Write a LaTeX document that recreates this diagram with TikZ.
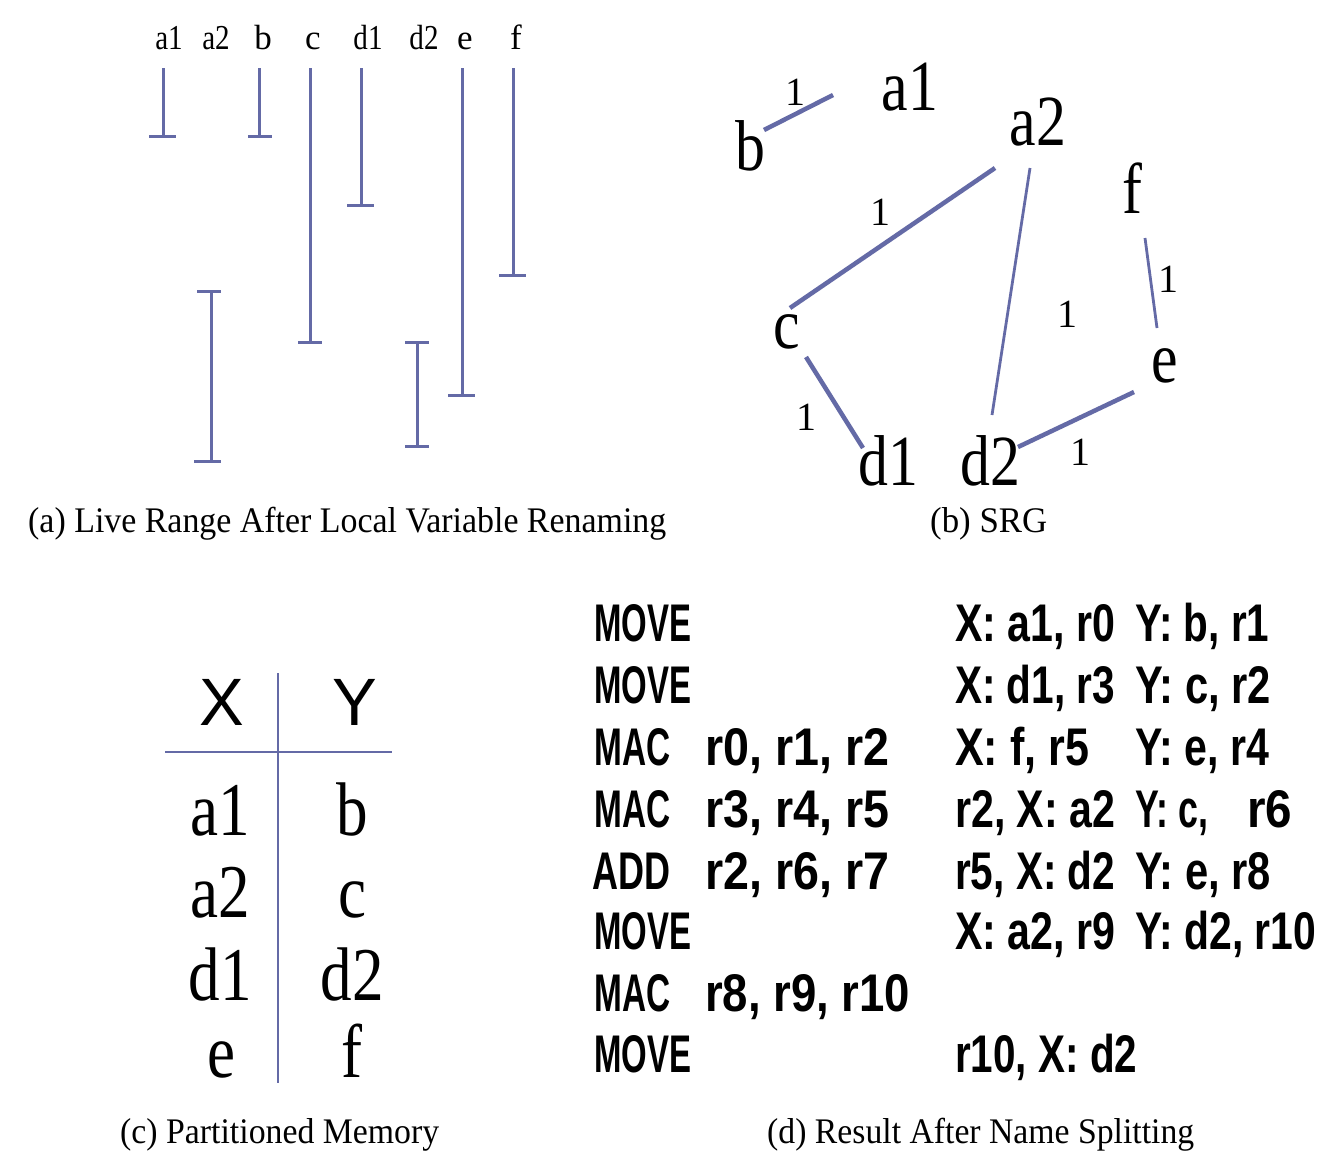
\documentclass[tikz,border=0pt]{standalone}
\usepackage{fontspec}
\usepackage{graphicx}
\setmainfont{Liberation Serif}
\newfontfamily\arialf{Liberation Sans}
\definecolor{lrblue}{RGB}{100,106,166}
\newcommand\fw[2]{\resizebox{#1pt}{\height}{#2}}
\newcommand\sxx[1]{\scalebox{0.83}[1]{#1}}
\begin{document}
\begin{tikzpicture}[x=1pt,y=-1pt,
  bar/.style={draw=lrblue,line width=3pt},
  edgethick/.style={draw=lrblue,line width=4.5pt},
  edgethin/.style={draw=lrblue,line width=2.8pt},
  tbl/.style={draw=lrblue,line width=2.4pt},
  collab/.style={font=\fontsize{35}{35}\selectfont,anchor=base,inner sep=0pt},
  srg/.style={font=\fontsize{72}{72}\selectfont,anchor=base,inner sep=0pt},
  wlab/.style={font=\fontsize{40}{40}\selectfont,anchor=base,inner sep=0pt},
  tcell/.style={font=\fontsize{76}{76}\selectfont,anchor=base,inner sep=0pt},
  thead/.style={font=\arialf\fontsize{67}{67}\selectfont,anchor=base,inner sep=0pt},
  opc/.style={font=\arialf\bfseries\fontsize{53}{53}\selectfont,anchor=base west,inner sep=0pt},
  opd/.style={font=\arialf\bfseries\fontsize{53}{53}\selectfont,anchor=base west,inner sep=0pt},
  capt/.style={font=\fontsize{36}{36}\selectfont,anchor=base west,inner sep=0pt}]
\useasboundingbox[fill=white] (0,0) rectangle (1330,1163);

% ---------- (a) live ranges ----------
\node[collab] (la1) at (169,49) {\sxx{a1}};
\node[collab] (la2) at (216,49) {\sxx{a2}};
\node[collab] (lb)  at (263,49) {b};
\node[collab] (lc)  at (313,49) {c};
\node[collab] (ld1) at (368,49) {\sxx{d1}};
\node[collab] (ld2) at (424,49) {\sxx{d2}};
\node[collab] (le)  at (465,49) {e};
\node[collab] (lf)  at (516,49) {f};

\draw[bar] (163,68) -- (163,136); \draw[bar] (149,136) -- (176,136);
\draw[bar] (259,68) -- (259,136); \draw[bar] (248,136) -- (272,136);
\draw[bar] (310,68) -- (310,342); \draw[bar] (298,342) -- (322,342);
\draw[bar] (361,68) -- (361,205); \draw[bar] (347,205) -- (374,205);
\draw[bar] (462,68) -- (462,395); \draw[bar] (448,395) -- (475,395);
\draw[bar] (513,68) -- (513,275); \draw[bar] (499,275) -- (526,275);
\draw[bar] (211,291) -- (211,461); \draw[bar] (197,291) -- (221,291); \draw[bar] (194,461) -- (221,461);
\draw[bar] (417,342) -- (417,446); \draw[bar] (405,342) -- (429,342); \draw[bar] (405,446) -- (429,446);

\node[capt] (capa) at (28,532) {\fw{638}{(a) Live Range After Local Variable Renaming}};

% ---------- (b) SRG ----------
\node[srg] (b)  at (750,170) {\sxx{b}};
\node[srg] (a1) at (910,110) {\sxx{a1}};
\node[srg] (a2) at (1038,145) {\sxx{a2}};
\node[srg] (f)  at (1132,213) {\sxx{f}};
\node[srg] (c)  at (787,348) {\sxx{c}};
\node[srg] (e)  at (1165,382) {\sxx{e}};
\node[srg] (d1) at (888,485) {\sxx{d1}};
\node[srg] (d2) at (990,485) {\sxx{d2}};

\draw[edgethick] ([shift={(14,-40)}]b.base) -- ([shift={(-77,-15)}]a1.base);
\draw[edgethick] ([shift={(-43,23)}]a2.base) -- ([shift={(3,-40)}]c.base);
\draw[edgethin]  ([shift={(-8,23)}]a2.base) -- ([shift={(2,-70)}]d2.base);
\draw[edgethin]  ([shift={(13,25)}]f.base) -- ([shift={(-8,-54)}]e.base);
\draw[edgethick] ([shift={(19,9)}]c.base) -- ([shift={(-25,-37)}]d1.base);
\draw[edgethick] ([shift={(28,-38)}]d2.base) -- ([shift={(-31,10)}]e.base);

\node[wlab] (w1) at (795,105) {1};
\node[wlab] (w2) at (880,225) {1};
\node[wlab] (w3) at (1067,327) {1};
\node[wlab] (w4) at (1168,292) {1};
\node[wlab] (w5) at (806,430) {1};
\node[wlab] (w6) at (1080,465) {1};

\node[capt] (capb) at (930,532) {\fw{117}{(b) SRG}};

% ---------- (c) partitioned memory ----------
\draw[tbl] (278,673) -- (278,1083);
\draw[tbl] (165,752) -- (392,752);
\node[thead] (hx) at (222,725) {X};
\node[thead] (hy) at (355,725) {Y};
\node[tcell] (ta1) at (220,835) {\sxx{a1}};
\node[tcell] (tb)  at (352,835) {\sxx{b}};
\node[tcell] (ta2) at (220,917) {\sxx{a2}};
\node[tcell] (tc)  at (352,917) {\sxx{c}};
\node[tcell] (td1) at (220,1000) {\sxx{d1}};
\node[tcell] (td2) at (352,1000) {\sxx{d2}};
\node[tcell] (te)  at (221,1077) {\sxx{e}};
\node[tcell] (tf)  at (352,1077) {\sxx{f}};

\node[capt] (capc) at (120,1143) {\fw{319}{(c) Partitioned Memory}};

% ---------- (d) result after name splitting ----------
\node[opc] (o1) at (594,641) {\fw{97}{MOVE}};
\node[opd] (p1x) at (955,641) {\fw{160}{X: a1, r0}};
\node[opd] (p1y) at (1135,641) {\fw{134}{Y: b, r1}};

\node[opc] (o2) at (594,703) {\fw{97}{MOVE}};
\node[opd] (p2x) at (955,703) {\fw{160}{X: d1, r3}};
\node[opd] (p2y) at (1135,703) {\fw{136}{Y: c, r2}};

\node[opc] (o3) at (594,765) {\fw{76}{MAC}};
\node[opd] (p3a) at (705,765) {\fw{184}{r0, r1, r2}};
\node[opd] (p3x) at (955,765) {\fw{134}{X: f, r5}};
\node[opd] (p3y) at (1135,765) {\fw{134}{Y: e, r4}};

\node[opc] (o4) at (594,827) {\fw{76}{MAC}};
\node[opd] (p4a) at (705,827) {\fw{184}{r3, r4, r5}};
\node[opd] (p4x) at (955,827) {\fw{160}{r2, X: a2}};
\node[opd] (p4y) at (1135,827) {\fw{73}{Y: c,}};
\node[opd] (p4z) at (1247,827) {\fw{45}{r6}};

\node[opc] (o5) at (592,889) {\fw{78}{ADD}};
\node[opd] (p5a) at (705,889) {\fw{184}{r2, r6, r7}};
\node[opd] (p5x) at (955,889) {\fw{160}{r5, X: d2}};
\node[opd] (p5y) at (1135,889) {\fw{136}{Y: e, r8}};

\node[opc] (o6) at (594,949) {\fw{97}{MOVE}};
\node[opd] (p6x) at (955,949) {\fw{160}{X: a2, r9}};
\node[opd] (p6y) at (1135,949) {\fw{181}{Y: d2, r10}};

\node[opc] (o7) at (594,1011) {\fw{76}{MAC}};
\node[opd] (p7a) at (705,1011) {\fw{205}{r8, r9, r10}};

\node[opc] (o8) at (594,1072) {\fw{97}{MOVE}};
\node[opd] (p8x) at (955,1072) {\fw{182}{r10, X: d2}};

\node[capt] (capd) at (767,1143) {\fw{427}{(d) Result After Name Splitting}};
\end{tikzpicture}
\end{document}
